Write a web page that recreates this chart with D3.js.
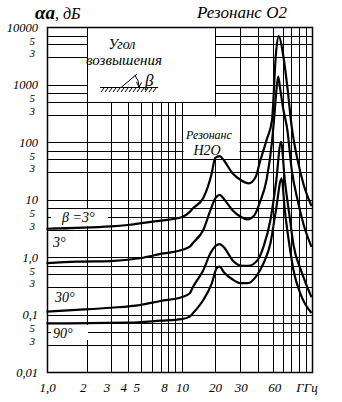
<!DOCTYPE html>
<html><head><meta charset="utf-8">
<script src="https://cdn.jsdelivr.net/npm/d3@7/dist/d3.min.js"></script>
<style>
html,body{margin:0;padding:0;background:#fff;}
svg{display:block;}
text{font-family:"Liberation Serif","DejaVu Serif",serif;font-style:italic;fill:#000;}
</style></head>
<body>
<script>
// ---- data ----
const xGridValues = [1,2,3,4,5,6,7,8,9,10,20,30,40,50,60,70,80,90,100];
const xTickLabels = ["1,0","2","3","4","5","8","10","20","30","60"];
const xTickValues = [1,2,3,4,5,8,10,20,30,60];
const yMajorValues = [10000,1000,100,10,1,0.1,0.01];
const yMajorLabels = ["10000","1000","100","10","1,0","0,1","0,01"];
const yMinorMultipliers = [3,5,7];
const yMinorLabelMultipliers = [5,3];

const seriesNames = ["β =3°","3°","30°","90°"];
const curve1F = [1,3,4,7,10,11.9,12.8,15.8,18.9,20.2,21.7,23.1,26.5,30.3,34.3,38.4,40.8,45.5,49.6,53.2,55.9,60.1,65.1,70.4,78.1,87.1,100];
const curve1V = [3.1,3.4,3.6,4.3,4.9,6.1,7.1,10.6,28.9,52.7,57,48.6,28.9,21.8,19.1,24.9,43.1,108,241,3530,6970,3530,905,182,48.6,17.9,7.7];
const curve2F = [1,1.67,3,4.9,7,10,11.9,12.7,15.8,18.4,20.3,21.7,23.5,26.5,30.3,33.6,37.7,40.8,45.5,49.6,51.5,53.2,55.3,57.5,60.1,65.1,70.4,78.1,87.1,100];
const curve2V = [0.78,0.83,0.85,0.95,1.13,1.32,1.51,1.75,2.95,6.6,10.6,12,9.8,6.6,5.0,4.5,5.4,8.7,21.8,100,260,650,1370,800,411,162,32.6,9.8,3.6,1.5];
const curve3F = [1,1.67,3,4.9,7,10,11.9,12.7,15.8,18.4,20.3,21.7,23.5,26.5,30.3,34.1,39.6,43.4,48.4,53.2,58.2,62.2,67.5,72.6,82.9,100];
const curve3V = [0.112,0.12,0.131,0.146,0.172,0.199,0.234,0.30,0.59,1.17,1.55,1.68,1.42,0.89,0.71,0.70,0.89,1.51,4.4,19.4,101,21.8,5.4,1.62,0.59,0.2];
const curve4F = [1,4,7,10,11.9,12.7,15.8,18.9,20.7,21.7,23.1,26.5,30.3,33.9,38.4,43.4,48.4,53.2,58.8,62.2,67.5,72.6,82.9,100];
const curve4V = [0.070,0.072,0.078,0.083,0.092,0.105,0.179,0.349,0.64,0.68,0.55,0.41,0.35,0.35,0.45,0.78,1.73,6.6,23.4,6.6,1.62,0.59,0.218,0.106];

// ---- chart ----
const W = 342, H = 402;
const svg = d3.select("body").append("svg").attr("width", W).attr("height", H);

const x = d3.scaleLog().domain([1,10,20,50,100]).range([46.5,181.5,214.5,272.5,311.5]);
const y = d3.scaleLog().domain([0.01,10000]).range([372,27]);
const px = v => Math.round(x(v)) + 0.5;
const py = v => Math.round(y(v)) + 0.5;

const X0 = px(1), X1 = px(100), Y0 = py(10000), Y1 = py(0.01);

// horizontal grid values
const yGridValues = [];
for (let k = -2; k <= 3; k++) {
  yGridValues.push(Math.pow(10, k));
  yMinorMultipliers.forEach(m => yGridValues.push(m * Math.pow(10, k)));
}
yGridValues.push(10000);

const grid = svg.append("g").attr("stroke", "#000").attr("stroke-width", 1).attr("shape-rendering", "crispEdges");
grid.selectAll("line.v").data(xGridValues).enter().append("line")
  .attr("x1", d => px(d)).attr("x2", d => px(d)).attr("y1", Y0).attr("y2", Y1);
grid.selectAll("line.h").data(yGridValues).enter().append("line")
  .attr("x1", X0).attr("x2", X1).attr("y1", d => py(d)).attr("y2", d => py(d));

// H2O label background
svg.append("rect").attr("x", px(10) + 1).attr("y", py(300) + 1)
  .attr("width", px(30) - px(10) - 2).attr("height", py(50) - py(300) - 2).attr("fill", "#fff");

// curve label backgrounds
svg.append("rect").attr("x", 51).attr("y", 209).attr("width", 57).attr("height", 17).attr("fill", "#fff");
svg.append("rect").attr("x", 51).attr("y", 325).attr("width", 37).attr("height", 15).attr("fill", "#fff");

// inset box
svg.append("rect").attr("x", px(2)).attr("y", py(10000))
  .attr("width", px(20) - px(2)).attr("height", py(500) - py(10000))
  .attr("fill", "#fff").attr("stroke", "#000").attr("stroke-width", 1).attr("shape-rendering", "crispEdges");

// frame
svg.append("rect").attr("x", X0).attr("y", Y0).attr("width", X1 - X0).attr("height", Y1 - Y0)
  .attr("fill", "none").attr("stroke", "#000").attr("stroke-width", 1.5);

// curves
const line = d3.line().x(d => x(d[0])).y(d => y(d[1])).curve(d3.curveMonotoneX);
const curves = [[curve1F,curve1V],[curve2F,curve2V],[curve3F,curve3V],[curve4F,curve4V]];
curves.forEach(c => {
  const pts = c[0].map((f, i) => [f, c[1][i]]);
  svg.append("path").attr("d", line(pts)).attr("fill", "none")
    .attr("stroke", "#000").attr("stroke-width", 2.2).attr("stroke-linejoin", "round");
});

// y labels
svg.selectAll("text.ymaj").data(yMajorValues).enter().append("text")
  .attr("x", 38).attr("y", d => y(d) + 4.5).attr("text-anchor", "end")
  .attr("font-size", 12.5).text((d, i) => yMajorLabels[i]);
const minorLab = [];
for (let k = -1; k <= 4; k++) yMinorLabelMultipliers.forEach((m, j) => minorLab.push([Math.pow(10, k), m, j]));
svg.selectAll("text.ymin").data(minorLab).enter().append("text")
  .attr("x", 35).attr("y", d => y(d[0]) + 17.5 + 12.5 * d[2])
  .attr("text-anchor", "end").attr("font-size", 11).text(d => d[1]);

// x labels
svg.selectAll("text.xl").data(xTickValues).enter().append("text")
  .attr("x", (d, i) => x(d) + (xTickLabels[i].length === 1 ? -4 : (d === 60 ? -8 : 1)))
  .attr("y", 392).attr("text-anchor", "middle").attr("font-size", 13)
  .text((d, i) => xTickLabels[i]);
svg.append("text").attr("x", 307).attr("y", 392).attr("text-anchor", "middle").attr("font-size", 13).text("ГГц");

// titles
const t = svg.append("text").attr("x", 35).attr("y", 19);
t.append("tspan").attr("font-size", 19).attr("font-weight", "bold").text("αa");
t.append("tspan").attr("font-size", 16).text(", дБ");
svg.append("text").attr("x", 197).attr("y", 18).attr("font-size", 17).text("Резонанс O2");

// inset content
svg.append("text").attr("x", 122).attr("y", 49).attr("text-anchor", "middle").attr("font-size", 14).text("Угол");
svg.append("text").attr("x", 124).attr("y", 65).attr("text-anchor", "middle").attr("font-size", 15).text("возвышения");
const sym = svg.append("g").attr("stroke", "#000").attr("fill", "none").attr("stroke-width", 1);
sym.append("line").attr("x1", 100).attr("y1", 87.5).attr("x2", 158).attr("y2", 87.5);
d3.range(102, 158, 4).forEach(hx => {
  sym.append("line").attr("x1", hx + 2).attr("y1", 88).attr("x2", hx - 1).attr("y2", 92);
});
sym.append("line").attr("x1", 121).attr("y1", 87.5).attr("x2", 137).attr("y2", 74);
sym.append("path").attr("d", "M135,75.5 A17,17 0 0 1 139,87");
sym.append("path").attr("d", "M136.5,82 L139,87 L141.5,82.5");
svg.append("text").attr("x", 145).attr("y", 86).attr("font-size", 17).attr("font-style", "normal").text("β");

// H2O resonance label
svg.append("text").attr("x", 209).attr("y", 139).attr("text-anchor", "middle").attr("font-size", 12).text("Резонанс");
svg.append("text").attr("x", 207).attr("y", 155).attr("text-anchor", "middle").attr("font-size", 14).text("H2O");

// curve labels
const labPos = [[62,222],[53,247],[55,302],[53,338]];
svg.selectAll("text.cl").data(seriesNames).enter().append("text")
  .attr("x", (d, i) => labPos[i][0]).attr("y", (d, i) => labPos[i][1])
  .attr("font-size", 14).text(d => d);
</script>
</body></html>
